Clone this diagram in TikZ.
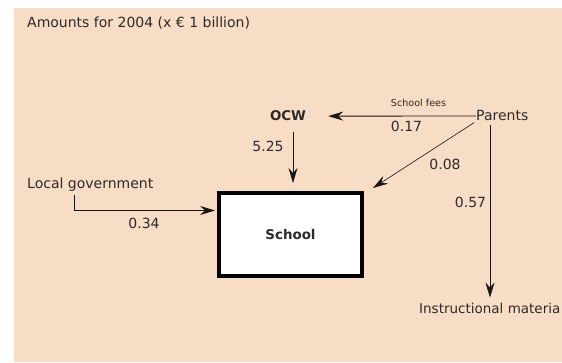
\documentclass[tikz,border=0pt]{standalone}
\usepackage{fontspec}
\setmainfont{DejaVu Sans}
\usepackage{xcolor}
\usepackage{tikz}
\usetikzlibrary{arrows.meta}
\definecolor{peach}{RGB}{248,221,198}
\definecolor{ink}{RGB}{45,42,40}
\definecolor{line}{RGB}{25,22,20}
\tikzstyle{arrow} = [draw=line, line width=0.9pt, -{Stealth[length=15pt,width=9pt,inset=5pt]}]
\tikzstyle{txt} = [inner sep=0pt, anchor=base west, text=ink, font=\fontsize{14}{16}\selectfont]
\tikzstyle{num} = [inner sep=0pt, anchor=base, text=ink, font=\fontsize{14}{16}\selectfont]

\begin{document}
\begin{tikzpicture}[x=1pt, y=1pt]
		\clip (0,0) rectangle (562,362);
		\fill [peach] (14,0) rectangle (562,354);

		\node (title) [txt] at (27,334) {Amounts for 2004 (x € 1 billion)};
		\node (school) [draw=black, line width=4pt, fill=white, minimum width=143pt, minimum height=83pt, inner sep=0pt, text=ink, font=\fontsize{13.4}{16}\selectfont\bfseries] at (290.5,127.5) {School};
		\node (ocw) [num, font=\fontsize{13.4}{16}\selectfont\bfseries] at (288,241) {OCW};
		\node (parents) [txt] at (476,241) {Parents};
		\node (fees) [num, font=\fontsize{9.6}{11}\selectfont] at (418.5,255.5) {School fees};
		\node (a017) [num] at (406.5,230) {0.17};
		\node (a525) [num] at (268,211) {5.25};
		\node (locgov) [txt] at (27,174) {Local government};
		\node (a034) [num] at (144,134) {0.34};
		\node (a008) [num] at (445,193) {0.08};
		\node (a057) [num] at (470.5,155) {0.57};
		\node (material) [txt, font=\fontsize{13.5}{16}\selectfont] at (419,49) {Instructional materia};

		\coordinate (ocwin) at ([shift={(2.5pt,8pt)}]school.north);
		\coordinate (lgin) at ([shift={(-2pt,24pt)}]school.west);
		\coordinate (parin) at ([shift={(9pt,3pt)}]school.north east);
		\coordinate (matin) at ([shift={(71pt,5pt)}]material.north west);

		\draw [arrow, shorten >=22pt] (parents.west) -- (ocw.east);
		\draw [arrow, shorten <=11pt] (ocwin |- ocw.south) -- (ocwin);
		\draw [arrow, shorten <=4pt] ([xshift=47.5pt]locgov.south west) |- (lgin);
		\draw [arrow, line width=0.6pt, shorten <=2pt] (parents.south west) -- (parin);
		\draw [arrow, line width=0.6pt, shorten <=4pt] (matin |- parents.south) -- (matin);
	\end{tikzpicture}
\end{document}
